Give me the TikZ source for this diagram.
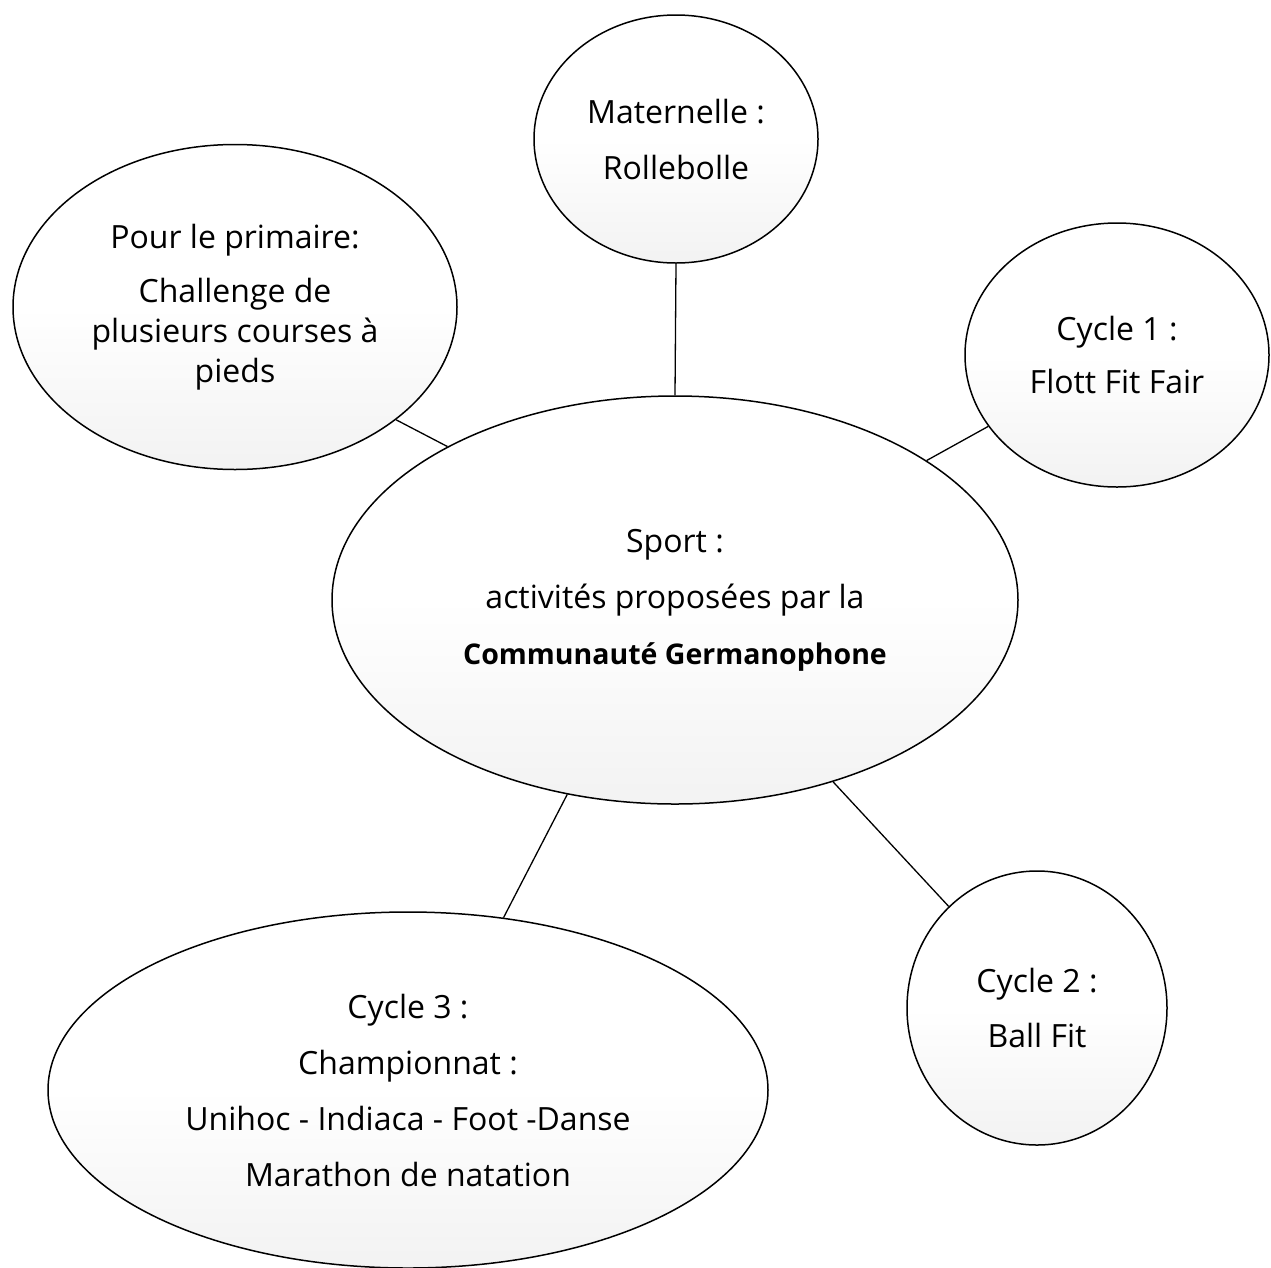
\documentclass[tikz,border=0pt]{standalone}
\usepackage{fontspec}
\setmainfont{Open Sans}
\usetikzlibrary{shapes.geometric}
\begin{document}
\begin{tikzpicture}[x=1pt,y=-1pt,
  bubble/.style={ellipse, draw=black, line width=1.5pt, top color=white, bottom color=gray!10,
    middle color=white, inner sep=0pt, align=center, font=\fontsize{32}{38}\selectfont},
  link/.style={line width=1.3pt}]
\useasboundingbox (0,0) rectangle (1271,1267);
\node[bubble, minimum width=284pt, minimum height=248pt] (mat) at (676,139)
  {Maternelle :\\[18pt]Rollebolle};
\node[bubble, minimum width=444pt, minimum height=325pt] (prim) at (235,307)
  {Pour le primaire:\\[16pt]Challenge de\\[2pt]plusieurs courses à\\[2pt]pieds};
\node[bubble, minimum width=304pt, minimum height=264pt] (c1) at (1117,355)
  {Cycle 1 :\\[15pt]Flott Fit Fair};
\node[bubble, minimum width=686pt, minimum height=408pt] (cen) at (675,600)
  {Sport :\\[18pt]activités proposées par la\\[18pt]{\fontsize{28.5}{34}\selectfont\bfseries Communauté Germanophone}};
\node[bubble, minimum width=260pt, minimum height=274pt] (c2) at (1037,1008)
  {Cycle 2 :\\[17pt]Ball Fit};
\node[bubble, minimum width=720pt, minimum height=356pt] (c3) at (408,1090)
  {Cycle 3 :\\[18pt]Championnat :\\[18pt]Unihoc - Indiaca - Foot -Danse\\[18pt]Marathon de natation};
\draw[link] (mat.south) -- (cen.north);
\draw[link] (prim.-35) -- (cen.146);
\draw[link] (c1.209) -- (cen.29);
\draw[link] (cen.241) -- (c3.61);
\draw[link] (cen.311.5) -- (c2.131.7);
\end{tikzpicture}
\end{document}
